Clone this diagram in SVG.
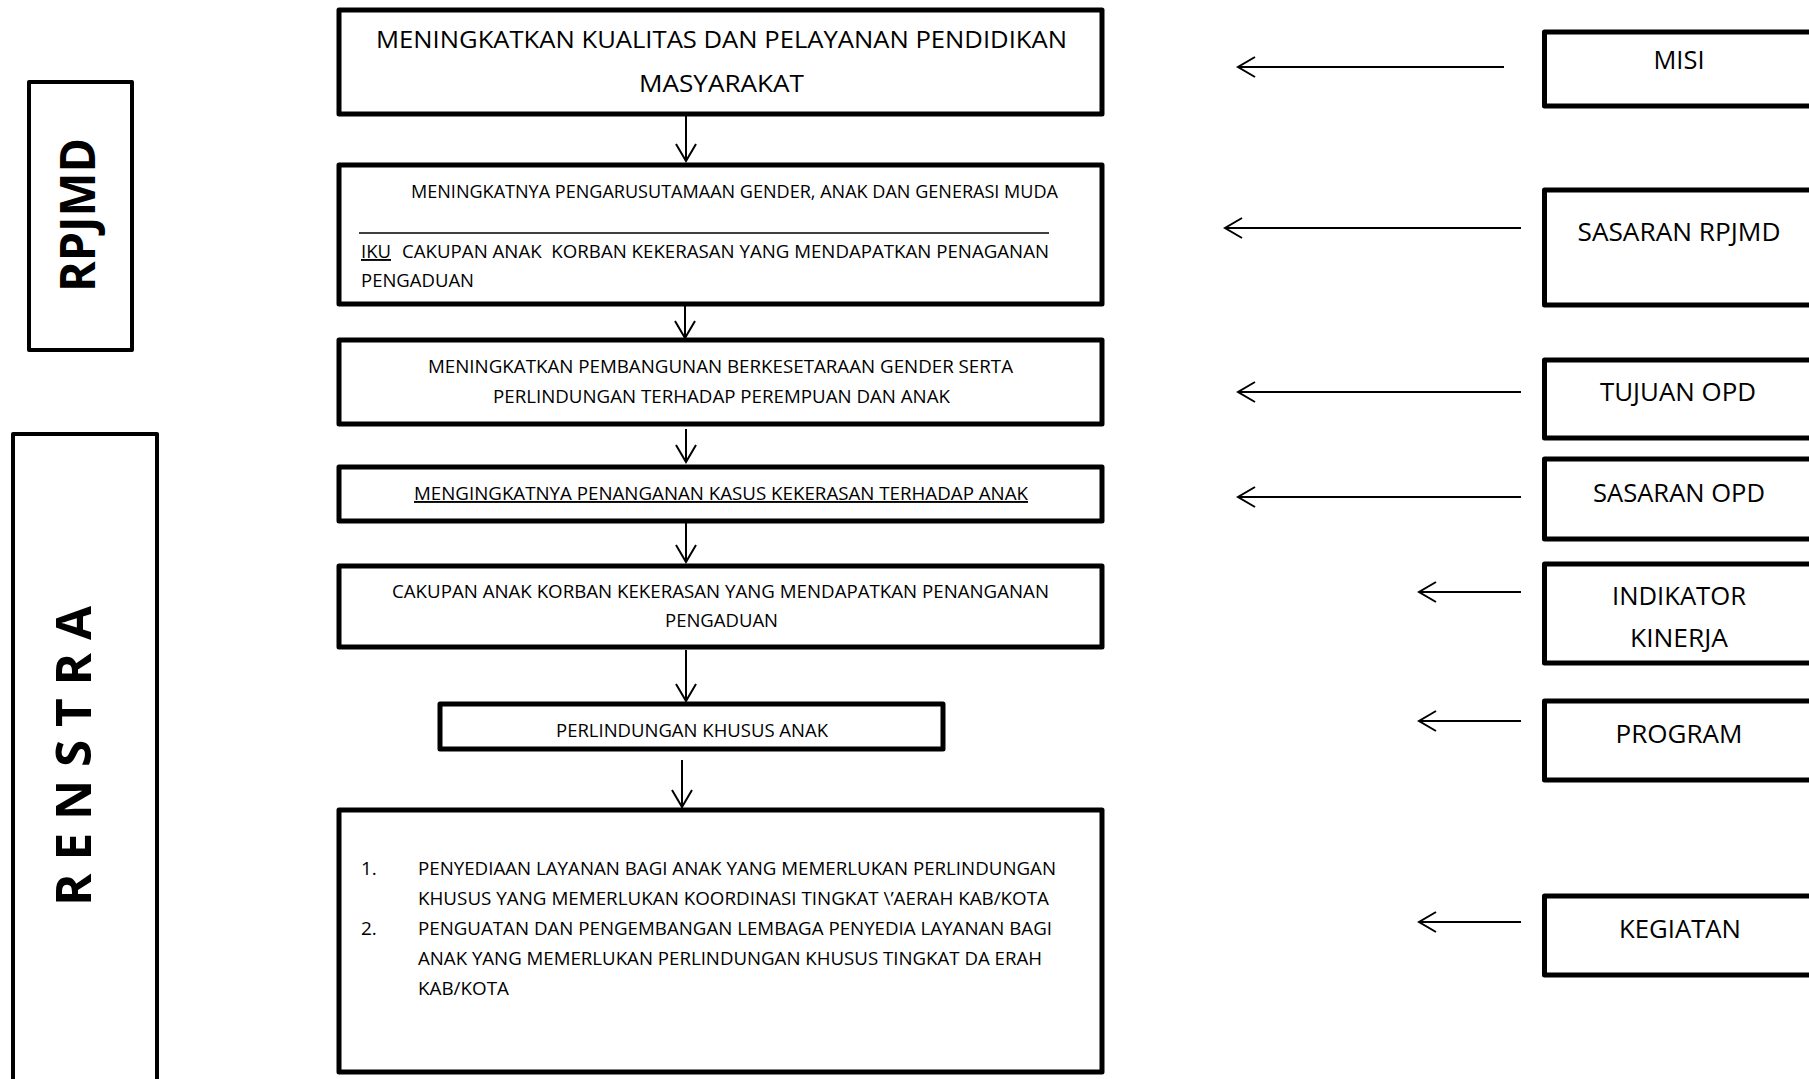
<svg xmlns="http://www.w3.org/2000/svg" width="1809" height="1079" viewBox="0 0 1809 1079">
<style>
.box{fill:#fff;stroke:#000;stroke-width:5;stroke-linejoin:round}
.sbox{fill:#fff;stroke:#000;stroke-width:4;stroke-linejoin:round}
.t{font-family:"Open Sans","Noto Sans","Liberation Sans",sans-serif;fill:#000;white-space:pre}
.big{font-size:24px}
.sm{font-size:19px}
.rt{font-size:25px;text-anchor:middle}
.vt{font-family:"Open Sans","Noto Sans","Liberation Sans",sans-serif;font-weight:bold;font-size:48px;text-anchor:middle;fill:#000;white-space:pre}
.conn{stroke:#000;stroke-width:2;fill:none;marker-end:url(#ah)}
</style>
<defs>
<marker id="ah" markerUnits="userSpaceOnUse" viewBox="-19 -12 21 24" markerWidth="21" markerHeight="24" refX="0" refY="0" orient="auto">
<path d="M-17,-10 L0,0 L-17,10" fill="none" stroke="#000" stroke-width="2"/>
</marker>
</defs>
<rect width="1809" height="1079" fill="#fff"/>

<g id="rpjmd">
<rect class="sbox" x="29" y="82" width="103" height="268"/>
<text class="vt" transform="translate(95,215) rotate(-90)" textLength="154" lengthAdjust="spacingAndGlyphs">RPJMD</text>
</g>
<g id="renstra">
<rect class="sbox" x="13" y="434" width="144" height="680"/>
<text class="vt" transform="translate(91,756) rotate(-90)" textLength="300" lengthAdjust="spacingAndGlyphs">R E N S T R A</text>
</g>

<g id="misi-content">
<rect class="box" x="339" y="10" width="763" height="104"/>
<text class="t big" x="376" y="48" textLength="691" lengthAdjust="spacingAndGlyphs">MENINGKATKAN KUALITAS DAN PELAYANAN PENDIDIKAN</text>
<text class="t big" x="639" y="92" textLength="165" lengthAdjust="spacingAndGlyphs">MASYARAKAT</text>
</g>
<g id="sasaran-rpjmd-content">
<rect class="box" x="339" y="165" width="763" height="139"/>
<text class="t sm" x="411" y="198" textLength="647" lengthAdjust="spacingAndGlyphs">MENINGKATNYA PENGARUSUTAMAAN GENDER, ANAK DAN GENERASI MUDA</text>
<line x1="359" y1="233" x2="1049" y2="233" stroke="#000" stroke-width="1.5"/>
<text class="t sm" x="361" y="258" textLength="30" lengthAdjust="spacingAndGlyphs" text-decoration="underline">IKU</text>
<text class="t sm" x="402" y="258" textLength="647" lengthAdjust="spacingAndGlyphs">CAKUPAN ANAK  KORBAN KEKERASAN YANG MENDAPATKAN PENAGANAN</text>
<text class="t sm" x="361" y="287" textLength="113" lengthAdjust="spacingAndGlyphs">PENGADUAN</text>
</g>
<g id="tujuan-opd-content">
<rect class="box" x="339" y="340" width="763" height="84"/>
<text class="t sm" x="428" y="373" textLength="585" lengthAdjust="spacingAndGlyphs">MENINGKATKAN PEMBANGUNAN BERKESETARAAN GENDER SERTA</text>
<text class="t sm" x="493" y="403" textLength="457" lengthAdjust="spacingAndGlyphs">PERLINDUNGAN TERHADAP PEREMPUAN DAN ANAK</text>
</g>
<g id="sasaran-opd-content">
<rect class="box" x="339" y="467" width="763" height="54"/>
<text class="t sm" x="414" y="500" textLength="614" lengthAdjust="spacingAndGlyphs" text-decoration="underline">MENGINGKATNYA PENANGANAN KASUS KEKERASAN TERHADAP ANAK</text>
</g>
<g id="indikator-content">
<rect class="box" x="339" y="566" width="763" height="81"/>
<text class="t sm" x="392" y="598" textLength="657" lengthAdjust="spacingAndGlyphs">CAKUPAN ANAK KORBAN KEKERASAN YANG MENDAPATKAN PENANGANAN</text>
<text class="t sm" x="665" y="627" textLength="113" lengthAdjust="spacingAndGlyphs">PENGADUAN</text>
</g>
<g id="program-content">
<rect class="box" x="440" y="704" width="503" height="45"/>
<text class="t sm" x="556" y="737" textLength="272" lengthAdjust="spacingAndGlyphs">PERLINDUNGAN KHUSUS ANAK</text>
</g>
<g id="kegiatan-content">
<rect class="box" x="339" y="810" width="763" height="262"/>
<text class="t sm" x="361" y="875">1.</text>
<text class="t sm" x="418" y="875" textLength="638" lengthAdjust="spacingAndGlyphs">PENYEDIAAN LAYANAN BAGI ANAK YANG MEMERLUKAN PERLINDUNGAN</text>
<text class="t sm" x="418" y="905" textLength="631" lengthAdjust="spacingAndGlyphs">KHUSUS YANG MEMERLUKAN KOORDINASI TINGKAT \’AERAH KAB/KOTA</text>
<text class="t sm" x="361" y="935">2.</text>
<text class="t sm" x="418" y="935" textLength="634" lengthAdjust="spacingAndGlyphs">PENGUATAN DAN PENGEMBANGAN LEMBAGA PENYEDIA LAYANAN BAGI</text>
<text class="t sm" x="418" y="965" textLength="624" lengthAdjust="spacingAndGlyphs">ANAK YANG MEMERLUKAN PERLINDUNGAN KHUSUS TINGKAT DA ERAH</text>
<text class="t sm" x="418" y="995" textLength="91" lengthAdjust="spacingAndGlyphs">KAB/KOTA</text>
</g>

<g id="label-misi">
<rect class="box" x="1544.5" y="32" width="300" height="74"/>
<text class="t rt" x="1679" y="69" textLength="51" lengthAdjust="spacingAndGlyphs">MISI</text>
</g>
<g id="label-sasaran-rpjmd">
<rect class="box" x="1544.5" y="190" width="300" height="115"/>
<text class="t rt" x="1679" y="241" textLength="203" lengthAdjust="spacingAndGlyphs">SASARAN RPJMD</text>
</g>
<g id="label-tujuan-opd">
<rect class="box" x="1544.5" y="360" width="300" height="78"/>
<text class="t rt" x="1678" y="401" textLength="156" lengthAdjust="spacingAndGlyphs">TUJUAN OPD</text>
</g>
<g id="label-sasaran-opd">
<rect class="box" x="1544.5" y="459" width="300" height="80"/>
<text class="t rt" x="1679" y="502" textLength="172" lengthAdjust="spacingAndGlyphs">SASARAN OPD</text>
</g>
<g id="label-indikator">
<rect class="box" x="1544.5" y="564" width="300" height="99"/>
<text class="t rt" x="1679" y="605" textLength="134" lengthAdjust="spacingAndGlyphs">INDIKATOR</text>
<text class="t rt" x="1679" y="647" textLength="98" lengthAdjust="spacingAndGlyphs">KINERJA</text>
</g>
<g id="label-program">
<rect class="box" x="1544.5" y="701" width="300" height="79"/>
<text class="t rt" x="1679" y="743" textLength="127" lengthAdjust="spacingAndGlyphs">PROGRAM</text>
</g>
<g id="label-kegiatan">
<rect class="box" x="1544.5" y="896" width="300" height="79"/>
<text class="t rt" x="1680" y="938" textLength="122" lengthAdjust="spacingAndGlyphs">KEGIATAN</text>
</g>

<g id="connectors">
<line class="conn" x1="686" y1="116" x2="686" y2="161"/>
<line class="conn" x1="685" y1="306" x2="685" y2="338"/>
<line class="conn" x1="686" y1="429" x2="686" y2="462"/>
<line class="conn" x1="686" y1="523" x2="686" y2="562"/>
<line class="conn" x1="686" y1="650" x2="686" y2="701"/>
<line class="conn" x1="682" y1="760" x2="682" y2="807"/>
<line class="conn" x1="1504" y1="67" x2="1238" y2="67"/>
<line class="conn" x1="1521" y1="228" x2="1225" y2="228"/>
<line class="conn" x1="1521" y1="392" x2="1238" y2="392"/>
<line class="conn" x1="1521" y1="497" x2="1238" y2="497"/>
<line class="conn" x1="1521" y1="592" x2="1419" y2="592"/>
<line class="conn" x1="1521" y1="721" x2="1419" y2="721"/>
<line class="conn" x1="1521" y1="922" x2="1419" y2="922"/>
</g>
</svg>
